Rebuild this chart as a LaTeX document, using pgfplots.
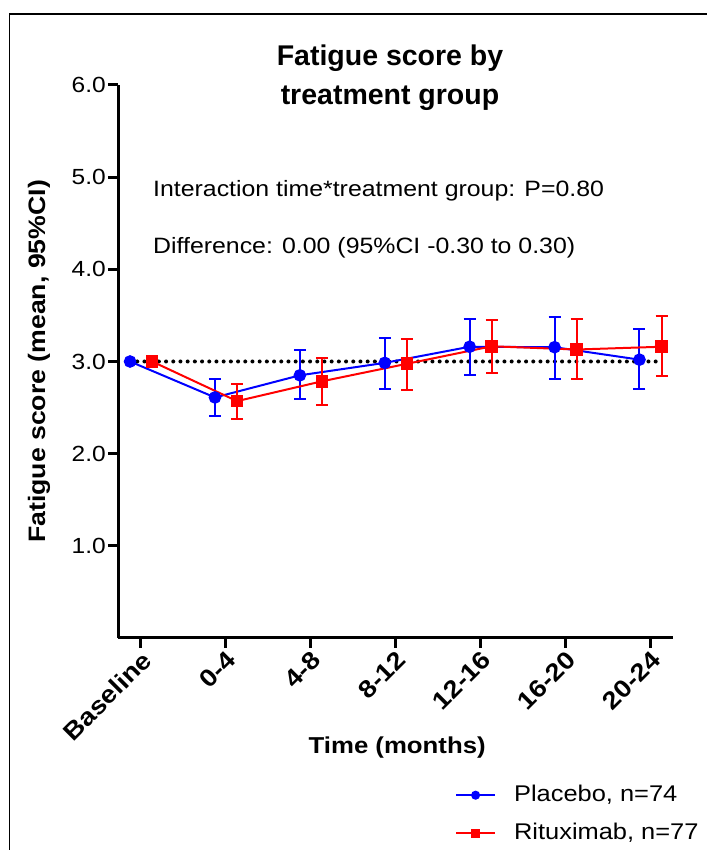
\documentclass[border=0pt]{standalone}
\usepackage{fontspec}
\setmainfont{Liberation Sans}[FakeStretch=1.12]
\newfontfamily\titlefont{Liberation Sans}
\usepackage{pgfplots}
\pgfplotsset{compat=1.18}
\definecolor{pblue}{RGB}{0,0,255}
\definecolor{rred}{RGB}{255,0,0}

\begin{document}
\begin{tikzpicture}[x=1pt,y=1pt]
\useasboundingbox (0,0) rectangle (707,850);
\draw[line width=1.5pt] (9.5,0) -- (9.5,836) -- (707,836);
\begin{axis}[
    at={(118pt,212pt)}, anchor=south west,
    scale only axis, width=555pt, height=553pt,
    xmin=-0.267, xmax=6.27, ymin=0, ymax=6,
    clip=false,
    axis lines=left,
    axis line style={-, line width=3pt},
    tick align=outside,
    major tick length=10pt,
    tick style={line width=3pt, black},
    xtick={0,1,2,3,4,5,6},
    xticklabels={Baseline,0-4,4-8,8-12,12-16,16-20,20-24},
    ytick={1,2,3,4,5,6},
    yticklabels={1.0,2.0,3.0,4.0,5.0,6.0},
    xticklabel style={rotate=45, anchor=north east, inner sep=1pt,
        font=\bfseries\fontsize{24.5}{28}\selectfont},
    yticklabel style={inner sep=2pt, font=\fontsize{21.9}{26}\selectfont},
    xlabel={Time (months)},
    ylabel={Fatigue score (mean, 95\%CI)},
    xlabel style={at={(axis description cs:0.503,-0.208)}, anchor=base,
        font=\bfseries\fontsize{23}{28}\selectfont},
    ylabel style={at={(axis description cs:-0.1315,0.5)}, anchor=base,
        font=\bfseries\fontsize{23.8}{28}\selectfont},
    legend style={draw=none, fill=none, at={(axis description cs:0.607,-0.264)},
        anchor=north west, inner sep=0pt, row sep=16pt, column sep=18pt,
        font=\fontsize{22.7}{27}\selectfont,
        nodes={inner sep=0pt, text height=17pt, text depth=5pt}},
    legend cell align=left,
    legend image code/.code={
        \draw[mark repeat=2, mark phase=2, mark size=3.5pt, #1]
        plot coordinates {(0pt,0pt) (19.5pt,0pt) (39pt,0pt)};},
    error bars/error bar style={line width=2pt},
]
% reference line at 3.0
\addplot[black, line width=4pt, line cap=round, dash pattern=on 0pt off 7.2pt, forget plot]
    coordinates {(-0.125,3) (6.135,3)};

\addplot[pblue, line width=2pt, mark=*, mark size=5.3pt,
    error bars/.cd, y dir=both, y explicit,
    error mark options={rotate=90, pblue, line width=2pt, mark size=6pt}]
    coordinates {
    (-0.125,3.00) += (0,0) -= (0,0)
    (0.875,2.61) += (0,0.20) -= (0,0.20)
    (1.875,2.85) += (0,0.27) -= (0,0.26)
    (2.875,2.985) += (0,0.27) -= (0,0.285)
    (3.875,3.16) += (0,0.30) -= (0,0.31)
    (4.875,3.155) += (0,0.33) -= (0,0.34)
    (5.875,3.02) += (0,0.33) -= (0,0.32)
    };
\addlegendentry{Placebo, n=74}

\addplot[rred, line width=2pt, mark=square*, mark size=5.3pt,
    error bars/.cd, y dir=both, y explicit,
    error mark options={rotate=90, rred, line width=2pt, mark size=6pt}]
    coordinates {
    (0.135,3.00) += (0,0) -= (0,0)
    (1.135,2.57) += (0,0.19) -= (0,0.19)
    (2.135,2.785) += (0,0.255) -= (0,0.26)
    (3.135,2.975) += (0,0.265) -= (0,0.28)
    (4.135,3.165) += (0,0.29) -= (0,0.295)
    (5.135,3.13) += (0,0.33) -= (0,0.32)
    (6.135,3.16) += (0,0.33) -= (0,0.32)
    };
\addlegendentry{Rituximab, n=77}
\end{axis}
\node[anchor=base, inner sep=0pt, font=\titlefont\bfseries\fontsize{28.5}{34}\selectfont]
    at (390,784.6) {Fatigue score by};
\node[anchor=base, inner sep=0pt, font=\titlefont\bfseries\fontsize{28.5}{34}\selectfont]
    at (390,745.4) {treatment group};
\node[anchor=base west, inner sep=0pt, font=\fontsize{22.2}{26}\selectfont]
    at (153,653.5) {Interaction time*treatment group: P=0.80};
\node[anchor=base west, inner sep=0pt, font=\fontsize{22.2}{26}\selectfont]
    at (153,596) {Difference: 0.00 (95\%CI -0.30 to 0.30)};
\end{tikzpicture}
\end{document}
